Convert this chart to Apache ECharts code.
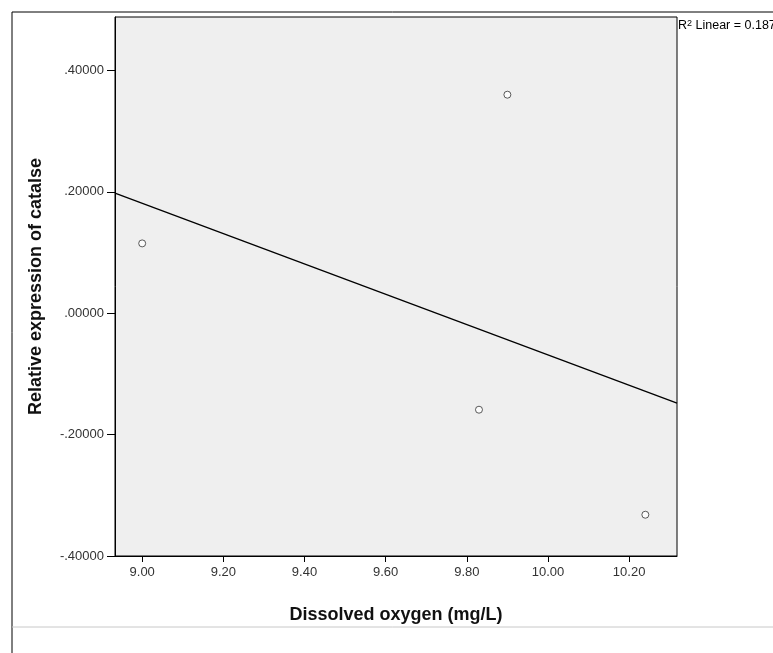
<!DOCTYPE html>
<html>
<head>
<meta charset="utf-8">
<script src="https://cdn.jsdelivr.net/npm/echarts@6/dist/echarts.min.js"></script>
<style>
  html, body { margin: 0; padding: 0; background: #fff; }
  #chart { width: 773px; height: 653px; }
</style>
</head>
<body>
<div id="chart"></div>
<script>
// scatter points: dissolved oxygen vs relative expression of catalase
var oxygen = [9.00, 9.90, 9.83, 10.24]
var catalase = [0.115, 0.360, -0.159, -0.332]
// fit line ends
var fitX = [8.933, 10.318]
var fitY = [0.198, -0.148]
var xTicks = [9.0, 9.2, 9.4, 9.6, 9.8, 10.0, 10.2]
var yTicks = [-0.4, -0.2, 0.0, 0.2, 0.4]
var r2Text = "0.187"

var chart = echarts.init(document.getElementById("chart"))

var points = oxygen.map(function (x, i) { return [x, catalase[i]] })
var fit = fitX.map(function (x, i) { return [x, fitY[i]] })

var labelFont = "'Liberation Sans', Arial, sans-serif"

var option = {
    animation: false,
    backgroundColor: "#fff",
    grid: {
        left: 115,
        top: 17,
        right: 96,
        bottom: 97,
        show: true,
        backgroundColor: "#efefef",
        borderColor: "#000",
        borderWidth: 1
    },
    xAxis: {
        type: "value",
        min: 8.933,
        max: 10.318,
        name: "Dissolved oxygen (mg/L)",
        nameLocation: "middle",
        nameGap: 50,
        nameTextStyle: { fontFamily: labelFont, fontSize: 18, fontWeight: "bold", color: "#111" },
        axisLine: { show: true, onZero: false, lineStyle: { color: "#000" } },
        axisTick: { show: true, length: 6, lineStyle: { color: "#000" }, customValues: xTicks },
        axisLabel: {
            customValues: xTicks,
            fontFamily: labelFont, fontSize: 13, color: "#333", margin: 10,
            formatter: function (v) { return v.toFixed(2) }
        },
        splitLine: { show: false }
    },
    yAxis: {
        type: "value",
        min: -0.4,
        max: 0.488,
        name: "Relative expression of catalse",
        nameLocation: "middle",
        nameGap: 70,
        nameTextStyle: { fontFamily: labelFont, fontSize: 18, fontWeight: "bold", color: "#111" },
        axisLine: { show: true, onZero: false, lineStyle: { color: "#000" } },
        axisTick: { show: true, length: 8, lineStyle: { color: "#000" }, customValues: yTicks },
        axisLabel: {
            customValues: yTicks,
            fontFamily: labelFont, fontSize: 13, color: "#333", margin: 11,
            formatter: function (v) { return v.toFixed(5).replace("0.", ".") }
        },
        splitLine: { show: false }
    },
    series: [
        {
            type: "line",
            data: fit,
            symbol: "none",
            lineStyle: { color: "#000", width: 1.3 },
            z: 2
        },
        {
            type: "scatter",
            data: points,
            symbol: "circle",
            symbolSize: 7,
            itemStyle: { color: "#fff", borderColor: "#333", borderWidth: 1 },
            z: 3
        }
    ],
    graphic: [
        // outer frame
        { type: "line", shape: { x1: 12, y1: 12, x2: 773, y2: 12 }, style: { stroke: "#000", lineWidth: 1 } },
        { type: "line", shape: { x1: 12, y1: 12, x2: 12, y2: 653 }, style: { stroke: "#000", lineWidth: 1 } },
        { type: "line", shape: { x1: 12, y1: 627, x2: 773, y2: 627 }, style: { stroke: "#c8c8c8", lineWidth: 1 } },
        {
            type: "text",
            left: 678,
            top: 19,
            style: {
                text: "{a|R}{s|2}{a| Linear = " + r2Text + "}",
                rich: {
                    a: { fontFamily: labelFont, fontSize: 12.5, color: "#222" },
                    s: { fontFamily: labelFont, fontSize: 9, color: "#222", verticalAlign: "top", padding: [0, 0, 5, 0] }
                }
            }
        }
    ]
}

chart.setOption(option)
</script>
</body>
</html>
